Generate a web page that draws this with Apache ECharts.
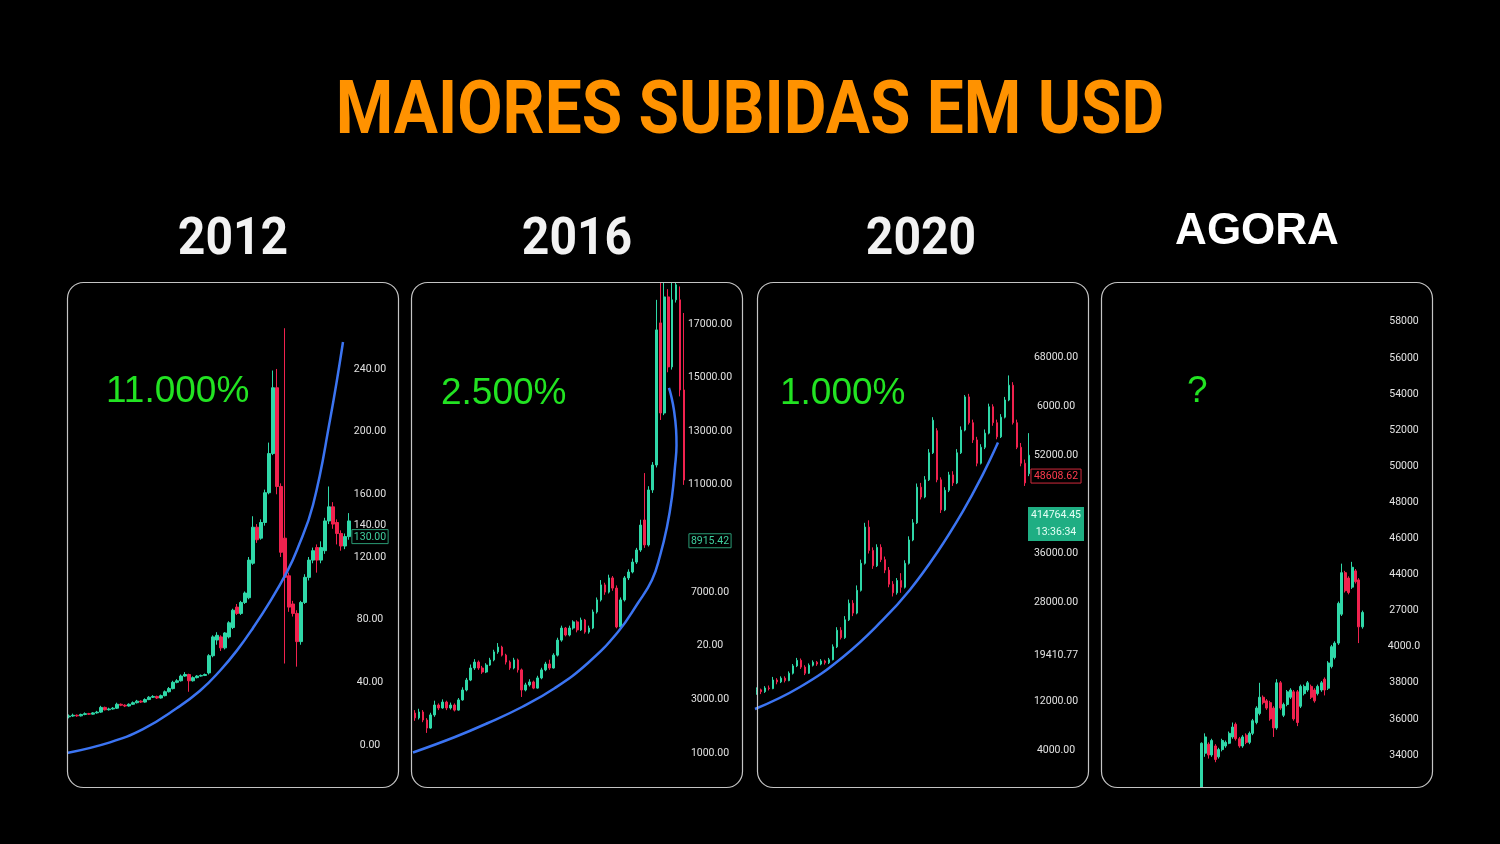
<!DOCTYPE html>
<html>
<head>
<meta charset="utf-8">
<style>
html,body{margin:0;padding:0;background:#000;}
#chart{width:1500px;height:844px;}
</style>
<script src="https://cdn.jsdelivr.net/npm/echarts@6/dist/echarts.min.js"></script>
</head>
<body>
<div id="chart"></div>
<script>
// ---------------- DATA ----------------
const titleText = 'MAIORES SUBIDAS EM USD';
const panelTitles = ['2012', '2016', '2020', 'AGORA'];
const gainLabels = ['11.000%', '2.500%', '1.000%', '?'];

// candles: [open, close, low, high]
const candles2012 = [
  [18,18.5,17,19.5],[18.5,19,18,20],[19,18.6,18,19.5],[18.6,19.5,18.2,20],[19.5,20,19,20.8],
  [20,19.7,19.2,20.5],[19.7,20.5,19.4,21],[20.5,21,20,21.8],[21,24,20.5,25],[24,22.5,22,24.5],
  [22.5,23,22,23.8],[23,23.5,22.6,24.2],[23.5,26,23,27],[26,25.4,24.8,26.5],[25.4,24.9,24.2,26],
  [24.9,26,24.5,26.6],[26,27,25.6,27.8],[27,28,26.5,28.8],[28,27.4,26.8,28.5],[27.4,29,27,29.8],
  [29,30.5,28.6,31.2],[30.5,31,30,31.8],[31,30,29.4,31.5],[30,31.5,29.6,32.2],[31.5,34,31,34.8],
  [34,36,33.5,37],[36,40,35.5,41],[40,41,39.4,42],[41,44,40.5,45],[44,45,43.5,46.5],
  [45,41,34,45.5],[41,43,40.5,43.8],[43,44,42.5,44.6],[44,44.4,43.6,45],[44.4,45,44,45.6],
  [46,57,45,58],[57,69,56,70],[67,70,64,72],[69,62,60,70],[62,71.5,61,72],
  [69,78,68,79],[75,86,74,87],[88,84,83,90],[84,91,83,92],[91,97,90,98],
  [94,118,93,120],[116,139,115,146],[139,131,129,141],[132,142,131,144],[142,161,140,163],
  [161,186,160,193],[186,228,185,239],[228,165,160,240],[165,123,120,167],[132,107,52,266],
  [108,88,85,110],[90,84,82,92],[84,66,50,86],[66,91,64,92],[91,107,90,109],
  [107,118,105,120],[118,124,116,126],[126,118,110,128],[118,126,116,130],[124,143,122,145],
  [143,152,141,165],[152,141,138,155],[142,135,128,144],[135,127,124,137],[127,133,125,135],
  [133,143,131,148]
];
// parabolic support curve: [candle position, price]
const curve2012 = [[-0.5,-5.1],[10.25,1.7],[18.5,10.1],[27,23.6],[32.75,34.6],[37.75,47.4],[42,60.4],[46,74.7],[50.25,91.5],[54.5,110.5],[57,124.5],[61,153.2],[65.25,207.4],[68.5,257.2]];
const ticks2012 = [0, 40, 80, 120, 133, 140, 160, 200, 240];
const tickLabels2012 = ['0.00','40.00','80.00','120.00','130.00','140.00','160.00','200.00','240.00'];

const candles2016 = [
  [2490,2310,2200,2600],[2310,2530,2250,2650],[2530,2230,2150,2600],[2230,1930,1750,2300],[1930,2420,1900,2500],
  [2420,2790,2350,2950],[2790,2680,2600,2850],[2680,2900,2650,3000],[2900,2680,2600,2950],[2680,2790,2620,2880],
  [2790,2600,2550,2850],[2600,2980,2580,3050],[2980,3350,2950,3450],[3350,3720,3300,3800],[3720,4170,3680,4300],
  [4170,4390,4100,4500],[4390,4170,4100,4450],[4170,4020,3950,4250],[4020,4280,3980,4350],[4280,4470,4250,4550],
  [4470,4770,4420,4850],[4770,4950,4700,5100],[4950,4650,4600,5000],[4650,4390,4300,4700],[4390,4170,4100,4450],
  [4170,4470,4120,4550],[4470,4100,4000,4520],[4100,3350,3090,4150],[3350,3540,3300,3620],[3540,3650,3480,3750],
  [3650,3420,3380,3700],[3420,3800,3400,3880],[3800,4100,3750,4180],[4100,4320,4050,4400],[4320,4170,4100,4480],
  [4170,4650,4150,4720],[4650,5210,4600,5300],[5210,5660,5150,5750],[5660,5400,5350,5700],[5400,5660,5350,5750],
  [5660,5890,5600,5950],[5890,5590,5500,5950],[5590,5960,5550,6050],[5960,5510,5450,6000],[5510,5660,5450,5750],
  [5660,6260,5620,6350],[6260,6710,6200,6800],[6710,7270,6650,7450],[7270,7000,6900,7350],[7000,7530,6950,7650],
  [7530,7150,7050,7600],[7150,5700,5650,7250],[5700,6710,5650,6800],[6710,7530,6650,7600],[7530,7750,7450,7850],
  [7750,8120,7700,8250],[8120,8570,8050,8650],[8570,9500,8500,9700],[9690,8760,8650,11440],[8760,10810,8700,10950],
  [10810,11740,10700,11850],[11740,16780,11650,17900],[17040,13680,13420,18530],[13680,18010,13600,19000],[18010,15400,15200,18300],
  [15400,17900,15300,19000],[17900,18460,17800,19200],[17900,14540,14300,18400],[14540,11180,11000,17410]
];
const curve2016 = [[-0.5,1019],[10.11,1597],[18.45,2119],[27.04,2716],[35.38,3425],[43.72,4357],[51.3,5513],[56.36,6595],[59.9,7453],[61.92,8348],[63.69,9430],[64.95,10549],[65.71,11668],[66.1,12488],[66.0,13048],[65.45,13794],[64.7,14353],[64.19,14615]];
const ticks2016 = [1000, 3000, 5000, 7000, 8915.42, 11000, 13000, 15000, 17000];
const tickLabels2016 = ['1000.00','3000.00','20.00','7000.00','8915.42','11000.00','13000.00','15000.00','17000.00'];

const candles2020 = [
  [13300,13800,13000,14200],[13800,13500,13100,14000],[13500,14100,13300,14400],[14100,14000,13700,14500],[14000,15400,13900,15900],
  [15400,15100,14700,15700],[15100,15700,14900,16000],[15700,15300,15000,16000],[15300,16500,15200,16800],[16500,17700,16300,18000],
  [17700,18600,17500,19000],[18600,17500,17200,18900],[17500,16500,16200,17800],[16500,17800,16400,18100],[17800,18300,17600,18600],
  [18300,18000,17700,18500],[18000,18500,17800,18800],[18500,18200,17900,18700],[18200,18700,18000,19000],[18700,20800,18600,21200],
  [20800,23500,20600,24000],[23500,22300,22000,24000],[22300,25200,22100,25800],[25200,27900,25000,28500],[27900,26300,25800,28400],
  [26300,30000,26100,30800],[30000,34400,29800,35000],[34400,40300,34200,41000],[40300,36500,36000,41400],[36500,34000,33500,37000],
  [34000,37000,33800,37500],[37000,35000,34600,37500],[35000,33300,32800,35500],[33300,31000,30500,33800],[31000,29600,29000,31500],
  [29600,31600,29300,32000],[31600,30500,29600,32800],[30500,34400,30300,34900],[34400,38200,34200,38800],[38200,41000,38000,41600],
  [41000,46800,40800,47400],[46800,45200,44800,47500],[45200,48000,45000,48600],[48000,52400,47800,53000],[52400,57700,52200,58200],
  [56000,48000,47600,56400],[48000,43100,42600,48400],[43100,46300,42900,46800],[46300,48800,46000,49300],[48800,47500,47000,49400],
  [47500,52400,47300,53000],[52400,56100,52200,56700],[56100,61500,55900,61800],[61500,57300,57000,62000],[57300,54500,54000,57800],
  [54500,50700,50200,55000],[50700,53300,50500,53800],[53300,55600,53000,56200],[55600,59900,55400,60400],[59900,57300,56800,60300],
  [57300,55000,54600,57800],[55000,58200,54800,58700],[58200,61000,58000,61500],[61000,63400,60800,65000],[63400,57300,57000,63900],
  [57300,53300,53000,57800],[53300,50700,50200,54000],[50700,47500,47000,51300],[49000,52000,48600,55600]
];
const curve2020 = [[-0.5,10677],[10.75,14260],[21.5,19161],[31.5,25219],[38.25,30105],[45,36130],[51.5,42905],[56.5,48930],[60.25,54060]];
const ticks2020 = [4000, 12000, 19410.77, 28000, 36000, 40800, 48608.62, 52000, 60000, 68000];
const tickLabels2020 = ['4000.00','12000.00','19410.77','28000.00','36000.00','414764.45\n13:36:34','48608.62','52000.00','6000.00','68000.00'];

const candlesNow = [
  [32200,34650,32200,34700],[34100,35000,33900,35200],[34600,34000,33800,34700],[34000,34800,33900,34900],[34500,33750,33600,34600],
  [33900,34300,33800,34400],[34300,34800,34200,34900],[34500,34700,34400,34800],[34650,35200,34600,35300],[35000,35550,34900,35800],
  [35700,34900,34800,35800],[34900,34500,34400,35000],[34500,35000,34400,35100],[35100,34700,34600,35200],[34700,35200,34600,35300],
  [35200,35900,35100,36000],[35800,36600,35700,36700],[36300,37200,36200,38000],[37200,36900,36800,37300],[37000,36600,36500,37100],
  [36900,36000,35900,37000],[36600,35500,35000,36700],[35500,38000,35400,38200],[38000,36600,36500,38100],[36200,36800,36100,36900],
  [36800,37500,36700,37600],[37200,37600,37100,37700],[37500,36000,35900,37600],[37500,35800,35600,37600],[36700,37800,36600,37900],
  [37400,37800,37300,37900],[37600,38000,37500,38100],[37800,37200,37100,37900],[37600,37000,36900,37700],[37400,37800,37300,37900],
  [37600,38000,37500,38100],[38200,37600,37300,38300],[37700,39100,37600,39200],[38900,40000,38800,40100],[39400,40200,39300,40300],
  [40200,42400,40100,42500],[41800,44100,41700,44600],[44100,43100,43000,44200],[43800,43000,42900,43900],[43300,44400,43200,44700],
  [44200,43600,43500,44300],[43700,41100,40200,43800],[41100,41900,41000,42000]
];
const ticksNow = [34000,36000,38000,40000,42000,44000,46000,48000,50000,52000,54000,56000,58000];
const tickLabelsNow = ['34000','36000','38000','4000.0','27000','44000','46000','48000','50000','52000','54000','56000','58000'];

// ---------------- LAYOUT ----------------
const chart = echarts.init(document.getElementById('chart'), null, {renderer: 'canvas'});
const UP = '#2fd8a8', DOWN = '#f0224e', CURVE = '#3b74f2', LABEL = '#e2e2e2';
const FONT = 'Roboto, "Noto Sans", sans-serif';

const panels = [
  {candles: candles2012, curve: curve2012, ticks: ticks2012, labels: tickLabels2012,
   grid: {left: 67, top: 282, width: 284, height: 505}, yMin: -26.8, yMax: 295.5, margin: 19, bw: '72%',
   tags: {'130.00': 'tagG'}},
  {candles: candles2016, curve: curve2016, ticks: ticks2016, labels: tickLabels2016,
   grid: {left: 413, top: 282, width: 273, height: 505}, yMin: -268, yMax: 18566, margin: 24, bw: '55%',
   tags: {'8915.42': 'tagG'}},
  {candles: candles2020, curve: curve2020, ticks: ticks2020, labels: tickLabels2020,
   grid: {left: 755, top: 282, width: 276, height: 505}, yMin: -2025, yMax: 80214, margin: 25, bw: '55%',
   tags: {'48608.62': 'tagR', '414764.45\n13:36:34': 'tagF'}},
  {candles: candlesNow, curve: null, ticks: ticksNow, labels: tickLabelsNow,
   grid: {left: 1200, top: 282, width: 164, height: 505}, yMin: 32227, yMax: 60204, margin: 40, bw: '75%',
   tags: {}}
];

const grids = [], xAxes = [], yAxes = [], series = [];
panels.forEach((p, k) => {
  grids.push(Object.assign({containLabel: false}, p.grid));
  const n = p.candles.length;
  xAxes.push({type: 'category', gridIndex: k, data: p.candles.map((_, i) => i), show: false, boundaryGap: true});
  xAxes.push({type: 'value', gridIndex: k, min: -0.5, max: n - 0.5, show: false});
  yAxes.push({
    type: 'value', gridIndex: k, position: 'right', min: p.yMin, max: p.yMax,
    splitLine: {show: false}, axisLine: {show: false}, axisTick: {show: false},
    axisLabel: {
      customValues: p.ticks, color: LABEL, fontSize: 10.5, fontFamily: FONT, align: 'center', margin: p.margin,
      formatter: function (v) {
        const idx = p.ticks.findIndex(t => Math.abs(t - v) < 1e-6);
        const txt = idx >= 0 ? p.labels[idx] : '';
        const tag = p.tags[txt];
        if (tag === 'tagF') return txt.split('\n').map(s => '{tagF|' + s + '}').join('\n');
        if (tag) return '{' + tag + '|' + txt + '}';
        return txt;
      },
      rich: {
        tagG: {color: '#3fcf9f', borderColor: '#2a9a74', borderWidth: 1, padding: [2, 2, 1, 2], fontSize: 10.5, fontFamily: FONT},
        tagR: {color: '#ff3b4e', borderColor: '#d02a3c', borderWidth: 1, padding: [2, 3, 1, 3], fontSize: 10.5, fontFamily: FONT},
        tagF: {color: '#e6fff6', backgroundColor: '#1fae83', width: 56, height: 17, lineHeight: 17, align: 'center', fontSize: 10.5, fontFamily: FONT}
      }
    }
  });
  series.push({
    type: 'candlestick', xAxisIndex: 2 * k, yAxisIndex: k, data: p.candles, barWidth: p.bw, clip: true,
    itemStyle: {color: UP, color0: DOWN, borderColor: UP, borderColor0: DOWN, borderWidth: 1}
  });
  if (p.curve) {
    series.push({
      type: 'line', xAxisIndex: 2 * k + 1, yAxisIndex: k, data: p.curve, smooth: 0.45,
      showSymbol: false, clip: true, lineStyle: {color: CURVE, width: 2.5}, z: 5
    });
  }
});

const panelLefts = [67, 411, 757, 1101];
const boxes = panelLefts.map(x => ({
  type: 'rect', shape: {x: x + 0.5, y: 282.5, width: 331, height: 505, r: 16},
  style: {fill: 'none', stroke: '#c4c4c4', lineWidth: 1.2}, z: 10, silent: true
}));
// black band above panel tops hides wicks that run past the chart frame
const masks = panelLefts.map(x => ({
  type: 'rect', shape: {x: x, y: 258, width: 333, height: 24},
  style: {fill: '#000000'}, z: 9, silent: true
}));

const headerPos = [[233, 241], [577, 241], [921, 241]];
const headers = headerPos.map((pos, i) => ({
  type: 'text', x: pos[0], y: pos[1], scaleX: 0.925, z: 10,
  style: {text: panelTitles[i], font: 'bold 52px ' + FONT, fill: '#f2f2f2', textAlign: 'center', textVerticalAlign: 'middle'}
}));
headers.push({
  type: 'text', x: 1257, y: 232, z: 10,
  style: {text: panelTitles[3], font: 'bold 44px "Liberation Sans", Arial, sans-serif', fill: '#ffffff', textAlign: 'center', textVerticalAlign: 'middle'}
});

const gainPos = [[106, 392], [441, 394], [780, 394], [1187, 392]];
const gains = gainPos.map((pos, i) => ({
  type: 'text', x: pos[0], y: pos[1], z: 10,
  style: {text: gainLabels[i], font: '37px "Liberation Sans", Arial, sans-serif', fill: '#22e322', textAlign: 'left', textVerticalAlign: 'middle'}
}));

const title = {
  type: 'text', x: 750, y: 114, scaleX: 0.877, z: 10,
  style: {text: titleText, font: 'bold 75px ' + FONT, fill: '#ff9200', textAlign: 'center', textVerticalAlign: 'middle'}
};

chart.setOption({
  backgroundColor: '#000000',
  animation: false,
  grid: grids,
  xAxis: xAxes,
  yAxis: yAxes,
  series: series,
  graphic: [title].concat(headers, gains, masks, boxes)
});
</script>
</body>
</html>
